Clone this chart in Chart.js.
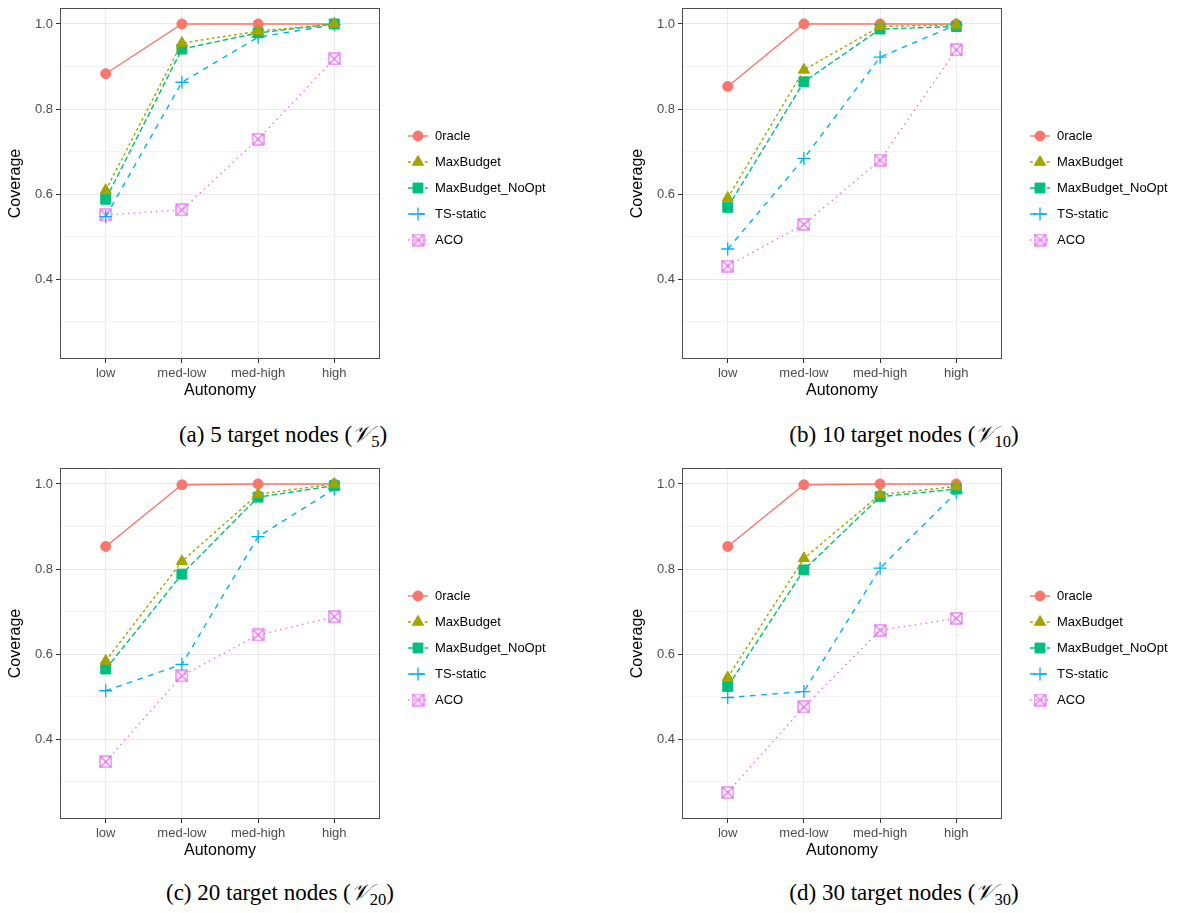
<!DOCTYPE html>
<html>
<head>
<meta charset="utf-8">
<script src="https://cdn.jsdelivr.net/npm/chart.js@4.4.1/dist/chart.umd.min.js"></script>
<style>
  body { margin: 0; background: #fff; width: 1180px; height: 913px; position: relative; overflow: hidden; }
  canvas { position: absolute; }
  .caption { position: absolute; font-family: 'Liberation Serif', 'DejaVu Serif', serif; font-size: 23px; color: #000;
             transform: translate(-50%, -50%); white-space: nowrap; }
  .caption .sub { font-size: 0.72em; vertical-align: -0.3em; }
</style>
</head>
<body>
<canvas id="c5" width="600" height="400" style="left:0;top:0"></canvas>
<canvas id="c10" width="558" height="400" style="left:622px;top:0"></canvas>
<canvas id="c20" width="600" height="400" style="left:0;top:460px"></canvas>
<canvas id="c30" width="558" height="400" style="left:622px;top:460px"></canvas>
<div class="caption" style="left:283px;top:437px">(a) 5 target nodes (<i>𝒱</i><span class="sub">5</span>)</div>
<div class="caption" style="left:904px;top:437px">(b) 10 target nodes (<i>𝒱</i><span class="sub">10</span>)</div>
<div class="caption" style="left:280px;top:895px">(c) 20 target nodes (<i>𝒱</i><span class="sub">20</span>)</div>
<div class="caption" style="left:904px;top:895px">(d) 30 target nodes (<i>𝒱</i><span class="sub">30</span>)</div>
<script>
// data
const autonomyLevels = ['low', 'med-low', 'med-high', 'high'];
const methods = ['0racle', 'MaxBudget', 'MaxBudget_NoOpt', 'TS-static', 'ACO'];
const yMajor = [0.4, 0.6, 0.8, 1.0];
const yMinor = [0.3, 0.5, 0.7, 0.9];

// (a) 5 target nodes
const oracle5    = [0.883, 1.000, 1.000, 1.000];
const maxBudget5 = [0.609, 0.955, 0.983, 1.000];
const noOpt5     = [0.588, 0.941, 0.979, 1.000];
const tsStatic5  = [0.547, 0.863, 0.969, 0.998];
const aco5       = [0.551, 0.563, 0.729, 0.918];

// (b) 10 target nodes
const oracle10    = [0.853, 1.000, 1.000, 1.000];
const maxBudget10 = [0.591, 0.892, 0.994, 0.998];
const noOpt10     = [0.569, 0.864, 0.988, 0.994];
const tsStatic10  = [0.471, 0.684, 0.922, 0.998];
const aco10       = [0.431, 0.529, 0.680, 0.939];

// (c) 20 target nodes
const oracle20    = [0.853, 0.998, 1.000, 1.000];
const maxBudget20 = [0.584, 0.818, 0.976, 1.000];
const noOpt20     = [0.565, 0.788, 0.969, 0.996];
const tsStatic20  = [0.514, 0.576, 0.876, 0.988];
const aco20       = [0.347, 0.549, 0.645, 0.688];

// (d) 30 target nodes
const oracle30    = [0.853, 0.998, 1.000, 1.000];
const maxBudget30 = [0.545, 0.825, 0.975, 0.994];
const noOpt30     = [0.524, 0.798, 0.970, 0.988];
const tsStatic30  = [0.498, 0.512, 0.802, 0.980];
const aco30       = [0.275, 0.476, 0.656, 0.684];

const colors = ['#F8766D', '#A3A500', '#00BF7D', '#00B0F6', '#E76BF3'];
const dashes = [[], [2.8, 2.8], [5.6, 2.8], [5.6, 5.6], [1.4, 4.2]];
const drawOrder = [5, 1, 2, 3, 4];
const sansFont = 'Liberation Sans';

function boxCross(color) {
  const c = document.createElement('canvas');
  c.width = 13; c.height = 13;
  const g = c.getContext('2d');
  g.strokeStyle = color; g.lineWidth = 1.2;
  g.strokeRect(1, 1, 11, 11);
  g.beginPath();
  g.moveTo(1, 1); g.lineTo(12, 12);
  g.moveTo(12, 1); g.lineTo(1, 12);
  g.stroke();
  return c;
}
const pointStyles = ['circle', 'triangle', 'rect', 'cross', boxCross(colors[4])];
const pointRadii = [5, 6.5, 7, 6.5, 6];

const isMajor = v => yMajor.some(m => Math.abs(m - v) < 1e-9);

const panelBox = {
  id: 'panelBox',
  afterDraw(chart) {
    const { ctx, chartArea: a } = chart;
    ctx.save();
    ctx.strokeStyle = '#4d4d4d';
    ctx.lineWidth = 1;
    ctx.strokeRect(Math.round(a.left) + 0.5, Math.round(a.top) + 0.5,
                   Math.round(a.right - a.left) - 1, Math.round(a.bottom - a.top) - 1);
    ctx.restore();
  }
};

const keyLegend = {
  id: 'keyLegend',
  afterDraw(chart) {
    const { ctx, chartArea: a } = chart;
    const x0 = a.right + 28;
    chart.data.datasets.forEach((ds, i) => {
      const y = a.top + 128 + i * 26;
      ctx.save();
      ctx.strokeStyle = ds.borderColor;
      ctx.lineWidth = ds.borderWidth;
      ctx.setLineDash(ds.borderDash);
      ctx.beginPath(); ctx.moveTo(x0, y); ctx.lineTo(x0 + 20, y); ctx.stroke();
      ctx.setLineDash([]);
      ctx.fillStyle = ds.pointBackgroundColor;
      ctx.strokeStyle = ds.borderColor;
      ctx.lineWidth = ds.pointBorderWidth;
      Chart.helpers.drawPoint(ctx, { pointStyle: ds.pointStyle, radius: ds.pointRadius, borderWidth: ds.pointBorderWidth, rotation: 0 }, x0 + 10, y);
      ctx.fillStyle = '#000';
      ctx.font = '13px "' + sansFont + '"';
      ctx.textBaseline = 'middle';
      ctx.fillText(ds.label, x0 + 27, y);
      ctx.restore();
    });
  }
};

function renderPanel(id, series, rightPad) {
  const datasets = series.map((vals, i) => ({
    label: methods[i],
    data: vals.map((v, k) => ({ x: k, y: v })),
    borderColor: colors[i],
    backgroundColor: colors[i],
    pointBackgroundColor: colors[i],
    borderWidth: 1.4,
    borderDash: dashes[i],
    pointStyle: pointStyles[i],
    pointRadius: pointRadii[i],
    pointBorderWidth: i === 3 ? 1.3 : 1,
    tension: 0,
    fill: false,
    order: drawOrder[i]
  }));
  return new Chart(document.getElementById(id).getContext('2d'), {
    type: 'line',
    data: { datasets },
    options: {
      responsive: false,
      animation: false,
      layout: { padding: { left: 0, top: 7, right: rightPad, bottom: 0 } },
      scales: {
        x: {
          type: 'linear', min: -0.6, max: 3.6,
          afterBuildTicks: s => { s.ticks = autonomyLevels.map((_, k) => ({ value: k })); },
          afterFit: s => { s.height = 41; s.paddingLeft = 0; s.paddingRight = 0; },
          ticks: { callback: v => autonomyLevels[v], color: '#4d4d4d', font: { family: sansFont, size: 13 },
                   padding: 3, maxRotation: 0, autoSkip: false },
          grid: { color: '#ebebeb', lineWidth: 1, tickLength: 4, tickColor: '#333' },
          border: { display: false },
          title: { display: true, text: 'Autonomy', color: '#000', font: { family: sansFont, size: 16 }, padding: { top: 0, bottom: 0 } }
        },
        y: {
          min: 0.2125, max: 1.0375,
          afterBuildTicks: s => { s.ticks = yMinor.concat(yMajor).sort().map(v => ({ value: v })); },
          afterFit: s => { s.width = 60; s.paddingTop = 0; s.paddingBottom = 0; },
          ticks: { callback: v => isMajor(v) ? v.toFixed(1) : '', color: '#4d4d4d', font: { family: sansFont, size: 13 },
                   padding: 3, autoSkip: false },
          grid: {
            color: c => isMajor(c.tick.value) ? '#e6e6e6' : '#f3f3f3',
            lineWidth: 1, tickLength: 4,
            tickColor: c => isMajor(c.tick.value) ? '#333' : 'rgba(0,0,0,0)'
          },
          border: { display: false },
          title: { display: true, text: 'Coverage', color: '#000', font: { family: sansFont, size: 16 }, padding: { top: 6, bottom: 0 } }
        }
      },
      plugins: { legend: { display: false }, tooltip: { enabled: false } }
    },
    plugins: [panelBox, keyLegend]
  });
}

renderPanel('c5',  [oracle5,  maxBudget5,  noOpt5,  tsStatic5,  aco5],  220);
renderPanel('c10', [oracle10, maxBudget10, noOpt10, tsStatic10, aco10], 178);
renderPanel('c20', [oracle20, maxBudget20, noOpt20, tsStatic20, aco20], 220);
renderPanel('c30', [oracle30, maxBudget30, noOpt30, tsStatic30, aco30], 178);
</script>
</body>
</html>
